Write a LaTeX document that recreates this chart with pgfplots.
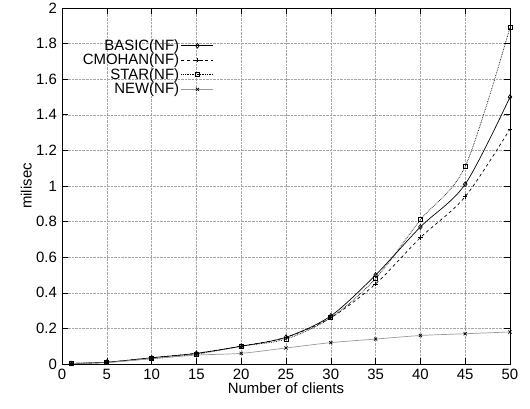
\documentclass[border=0pt]{standalone}
\usepackage{pgfplots}
\pgfplotsset{compat=1.18}
\usepackage{fontspec}
\setmainfont{Liberation Sans}
\begin{document}
\fontsize{15}{18}\selectfont
\begin{tikzpicture}
\path[use as bounding box] (-62bp,-45bp) rectangle (468bp,364bp);
\begin{axis}[
  at={(0,0)}, anchor=south west,
  scale only axis, width=448bp, height=356bp,
  xmin=0, xmax=50, ymin=0, ymax=2,
  xtick={0,5,...,50},
  ytick={0,0.2,...,2.01},
  yticklabel style={/pgf/number format/fixed},
  /pgf/number format/assume math mode=true,
  tick label style={font=\fontsize{15}{18}\selectfont},
  label style={font=\fontsize{15}{18}\selectfont},
  xlabel={Number of clients},
  ylabel={milisec},
  xlabel style={yshift=7bp},
  ylabel style={yshift=-6bp},
  grid=major,
  major grid style={gray!70, densely dotted, line width=0.5pt},
  tick align=inside,
  major tick length=6bp,
  axis line style={line width=0.8pt},
  every tick/.style={black, line width=0.6pt},
  legend style={at={(153bp,328bp)}, anchor=north east, draw=none, fill=none,
    font=\fontsize{15}{18}\selectfont, row sep=-2.5bp, inner sep=1pt},
  legend cell align=right,
  legend plot pos=right,
  legend image code/.code={\draw[mark repeat=2,mark phase=2] plot coordinates {(0bp,0bp) (16bp,0bp) (32bp,0bp)};},
  mark options={solid, scale=0.9},
]
\addplot[black, line width=0.7pt, smooth, mark=diamond, mark options={solid, scale=1.2}] coordinates {
(1,0.003) (5,0.01) (10,0.035) (15,0.06) (20,0.1) (25,0.15) (30,0.27) (35,0.5) (40,0.77) (45,1.01) (50,1.5)};
\addlegendentry{BASIC(NF)}
\addplot[black, line width=0.7pt, smooth, dashed, mark=+, mark options={solid, scale=1.1}] coordinates {
(1,0.003) (5,0.01) (10,0.035) (15,0.06) (20,0.1) (25,0.15) (30,0.26) (35,0.45) (40,0.71) (45,0.94) (50,1.32)};
\addlegendentry{CMOHAN(NF)}
\addplot[black, line width=0.7pt, smooth, densely dotted, mark=square, mark options={solid}] coordinates {
(1,0.003) (5,0.01) (10,0.03) (15,0.055) (20,0.1) (25,0.14) (30,0.26) (35,0.48) (40,0.81) (45,1.11) (50,1.89)};
\addlegendentry{STAR(NF)}
\addplot[gray!80, line width=0.7pt, smooth, mark=x, mark options={solid, black, scale=1.1}] coordinates {
(1,0.003) (5,0.008) (10,0.03) (15,0.05) (20,0.06) (25,0.09) (30,0.12) (35,0.14) (40,0.16) (45,0.17) (50,0.18)};
\addlegendentry{NEW(NF)}
\end{axis}
\end{tikzpicture}
\end{document}
